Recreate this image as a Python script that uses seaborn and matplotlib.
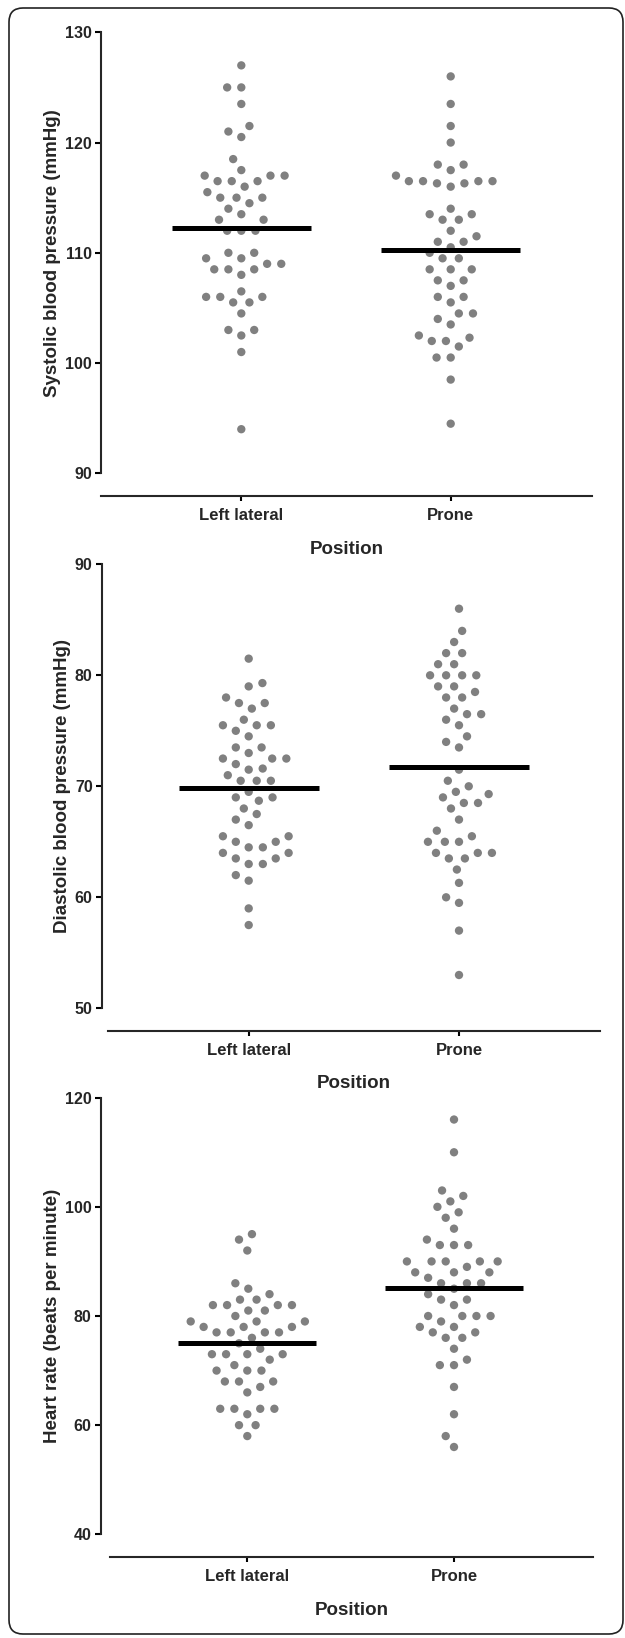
import numpy as np
import pandas as pd
import matplotlib
matplotlib.use("Agg")
import matplotlib.pyplot as plt
import seaborn as sns
from matplotlib.patches import FancyBboxPatch
from matplotlib.transforms import IdentityTransform

# ---------------- data ----------------
positions = ["Left lateral", "Prone"]

sbp_left = [127, 125, 125, 123.5, 121.5, 121, 120.5, 118.5, 117.5, 117, 117, 117,
            116.5, 116.5, 116.5, 116, 115.5, 115, 115, 115, 114.5, 114, 113.5, 113, 113,
            112, 112, 112, 110, 110, 109.5, 109.5, 109, 109, 108.5, 108.5, 108.5, 108,
            106.5, 106, 106, 106, 105.5, 105.5, 104.5, 103, 103, 102.5, 101, 94]
sbp_prone = [126, 123.5, 121.5, 120, 118, 118, 117.5, 117, 116.5, 116.5, 116.5, 116.5,
             116.3, 116.3, 116, 114, 113.5, 113.5, 113, 113, 112, 111.5, 111, 111, 110.5, 110,
             109.5, 109.5, 108.5, 108.5, 108.5, 107.5, 107.5, 107, 106, 106, 105.5,
             104.5, 104.5, 104, 103.5, 102.5, 102.3, 102, 102, 101.5, 100.5, 100.5, 98.5, 94.5]

dbp_left = [81.5, 79.3, 79, 78, 77.5, 77.5, 77, 76, 75.5, 75.5, 75.5, 75, 74.5, 73.5, 73.5,
            73, 72.5, 72.5, 72.5, 72, 71.6, 71.5, 71, 70.5, 70.5, 70.5, 69.5, 69, 69, 68.7,
            68, 67.5, 67, 66.5, 65.5, 65.5, 65, 65, 64.5, 64.5, 64, 64, 63.5, 63.5, 63, 63,
            62, 61.5, 59, 57.5]
dbp_prone = [86, 84, 83, 82, 82, 81, 81, 80, 80, 80, 80, 79, 79, 78.5, 78, 78, 77, 76.5,
             76.5, 76, 75.5, 74.5, 74, 73.5, 71.5, 70.5, 70, 69.5, 69.3, 69, 68.5, 68.5, 68,
             67, 66, 65.5, 65, 65, 65, 64, 64, 64, 63.5, 63.5, 62.5, 61.3, 60, 59.5, 57, 53]

hr_left = [95, 94, 92, 86, 85, 84, 83, 83, 82, 82, 82, 82, 81, 81, 80, 79, 79, 79, 78, 78,
           78, 77, 77, 77, 77, 76, 75, 74, 73, 73, 73, 73, 72, 71, 70, 70, 70, 68, 68, 68,
           67, 66, 63, 63, 63, 63, 62, 60, 60, 58]
hr_prone = [116, 110, 103, 102, 101, 100, 99, 98, 96, 94, 93, 93, 93, 90, 90, 90, 90, 90,
            89, 88, 88, 88, 87, 86, 86, 86, 85, 84, 83, 83, 82, 80, 80, 80, 80, 79, 78, 78,
            77, 77, 76, 76, 74, 72, 71, 71, 67, 62, 58, 56]

sbp_ticks = [90, 100, 110, 120, 130]
dbp_ticks = [50, 60, 70, 80, 90]
hr_ticks = [40, 60, 80, 100, 120]

ylabels = ["Systolic blood pressure (mmHg)",
           "Diastolic blood pressure (mmHg)",
           "Heart rate (beats per minute)"]
xlabel = "Position"

# ---------------- style ----------------
sns.set_style("ticks")
plt.rcParams["font.family"] = ["Liberation Sans", "DejaVu Sans"]
plt.rcParams["font.weight"] = "bold"
plt.rcParams["axes.labelweight"] = "bold"

W, H = 625, 1638
fig = plt.figure(figsize=(W / 100, H / 100), dpi=100)

# layout in pixels: (left, right, top, bottom), category centres, x-spine extent, x-spine y
layouts = [
    dict(box=(101.0, 591.7, 32.3, 473.3), cats=(241.3, 450.7), xs=(101.0, 591.7), xy=496.3),
    dict(box=(101.7, 600.0, 564.3, 1008.3), cats=(248.7, 459.0), xs=(108.3, 600.0), xy=1030.7),
    dict(box=(100.7, 593.0, 1097.7, 1534.3), cats=(247.3, 454.0), xs=(109.5, 593.0), xy=1557.3),
]
datasets = [(sbp_left, sbp_prone, sbp_ticks),
            (dbp_left, dbp_prone, dbp_ticks),
            (hr_left, hr_prone, hr_ticks)]

dot_color = "#808080"
for (left_vals, prone_vals, ticks), lay, ylab in zip(datasets, layouts, ylabels):
    l, r, t, b = lay["box"]
    ax = fig.add_axes([l / W, 1 - b / H, (r - l) / W, (b - t) / H])
    df = pd.DataFrame({
        "Position": [positions[0]] * len(left_vals) + [positions[1]] * len(prone_vals),
        "value": list(left_vals) + list(prone_vals),
    })
    sns.swarmplot(data=df, x="Position", y="value", order=positions, color=dot_color,
                  size=6, linewidth=0, ax=ax, zorder=3)
    for coll in ax.collections:
        coll.set_edgecolor("none")
        coll.set_linewidth(3.7)   # collision spacing only (no edge drawn)

    means = df.groupby("Position")["value"].mean().reindex(positions).values
    ax.hlines(means, np.arange(2) - 0.333, np.arange(2) + 0.333, color="black",
              linewidth=3.6, zorder=5)

    # spines first (set_position resets the ticks)
    c0, c1 = lay["cats"]
    unit = c1 - c0
    for s in ["top", "right"]:
        ax.spines[s].set_visible(False)
    ax.spines["left"].set_linewidth(1.5)
    ax.spines["bottom"].set_linewidth(1.5)
    ax.spines["bottom"].set_position(("outward", (lay["xy"] - b) * 0.72))
    xs0, xs1 = lay["xs"]
    ax.spines["bottom"].set_bounds((xs0 - c0) / unit, (xs1 - c0) / unit)

    ax.set_xlim((l - c0) / unit, (r - c0) / unit)
    ax.set_ylim(ticks[0], ticks[-1])
    ax.tick_params(axis="y", direction="out", length=4.1, width=1.5, pad=2.4,
                   color="black", labelsize=11.5)
    ax.tick_params(axis="x", direction="out", length=3.6, width=1.5, pad=5,
                   color="black", labelsize=12)
    ax.set_yticks(ticks)
    ax.set_yticklabels([str(v) for v in ticks], fontsize=11.5, fontweight="bold")
    ax.set_xticks([0, 1])
    ax.set_xticklabels(positions, fontsize=12, fontweight="bold")

    ax.set_ylabel(ylab, fontsize=13.5, fontweight="bold", labelpad=3)
    ax.set_xlabel(xlabel, fontsize=13.5, fontweight="bold")
    xmid = ((xs0 + xs1) / 2 - l) / (r - l)
    ylab_top = lay["xy"] + 44.5
    ax.xaxis.set_label_coords(xmid, (b - ylab_top) / (b - t))
    ax.grid(False)
    ax.set_facecolor("none")

# outer rounded frame
frame = FancyBboxPatch((9, H - 1634), 614, 1626,
                       boxstyle="round,pad=0,rounding_size=14",
                       transform=IdentityTransform(), facecolor="none",
                       edgecolor="#222222", linewidth=1.2)
fig.add_artist(frame)

fig.savefig("out.png", dpi=100, facecolor="white")
